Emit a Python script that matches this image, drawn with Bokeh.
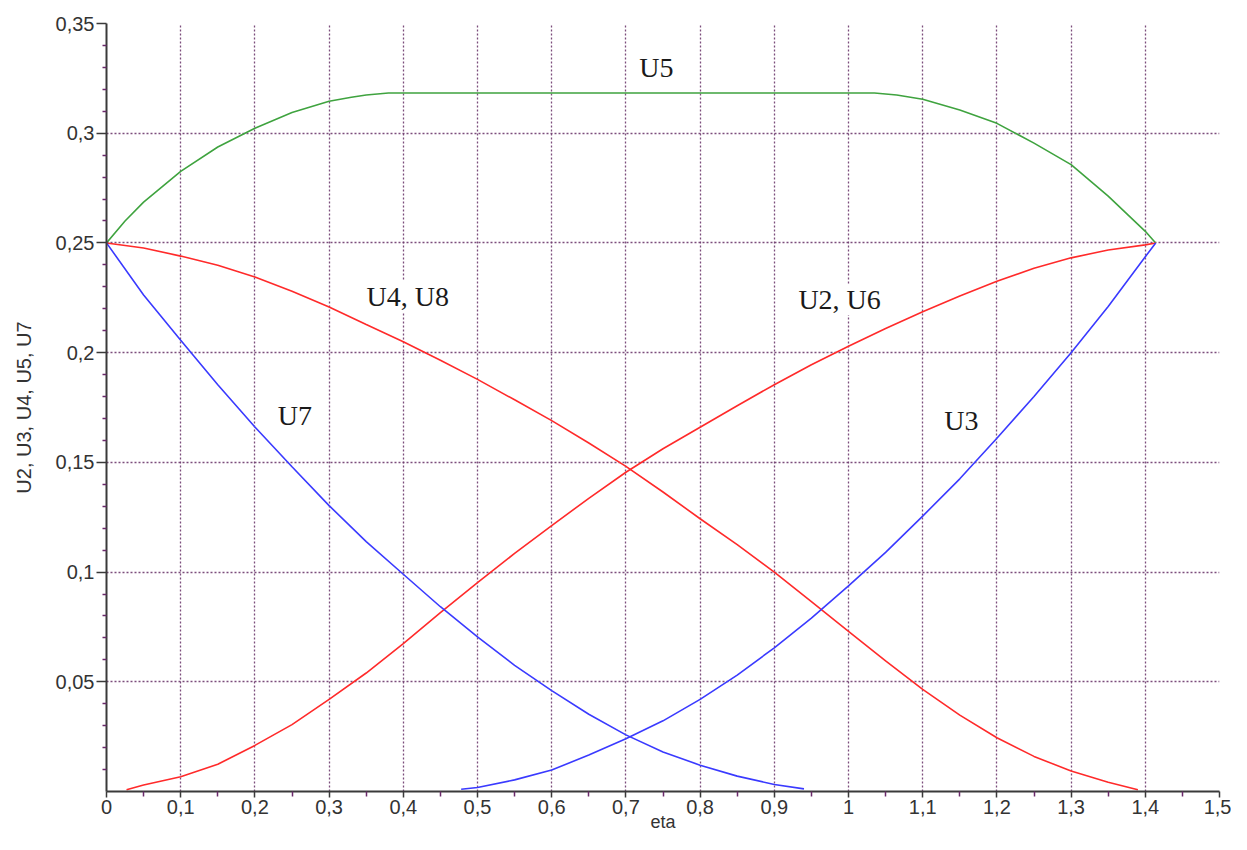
from bokeh.plotting import figure
from bokeh.models import Range1d, FixedTicker, CustomJSTickFormatter, Label
from bokeh.embed import file_html
from bokeh.resources import INLINE

# ---- data ----
eta_u5 = [0.0, 0.025, 0.05, 0.1, 0.15, 0.2, 0.25, 0.3, 0.33, 0.35, 0.38, 1.035, 1.065, 1.1, 1.15, 1.2, 1.25, 1.3, 1.35, 1.4, 1.414]
u5 = [0.25, 0.260, 0.2686, 0.2826, 0.2937, 0.3023, 0.3094, 0.3146, 0.3164, 0.3174, 0.3183, 0.3183, 0.3174, 0.3155, 0.3106, 0.3045, 0.2955, 0.2857, 0.2713, 0.2553, 0.25]

eta_u4 = [0.0, 0.05, 0.1, 0.15, 0.2, 0.25, 0.3, 0.35, 0.4, 0.45, 0.5, 0.55, 0.6, 0.65, 0.7, 0.75, 0.8, 0.85, 0.9, 0.95, 1.0, 1.05, 1.1, 1.15, 1.2, 1.25, 1.3, 1.35, 1.39]
u4 = [0.25, 0.2477, 0.2440, 0.2398, 0.2345, 0.2280, 0.2208, 0.2128, 0.2050, 0.1965, 0.1878, 0.1785, 0.1690, 0.1588, 0.1482, 0.1365, 0.1243, 0.1125, 0.1000, 0.0865, 0.0730, 0.0595, 0.0465, 0.0348, 0.0245, 0.0160, 0.0093, 0.0042, 0.0008]

eta_u2 = [0.027, 0.05, 0.1, 0.15, 0.2, 0.25, 0.3, 0.35, 0.4, 0.45, 0.5, 0.55, 0.6, 0.65, 0.7, 0.75, 0.8, 0.85, 0.9, 0.95, 1.0, 1.05, 1.1, 1.15, 1.2, 1.25, 1.3, 1.35, 1.4, 1.414]
u2 = [0.0008, 0.0030, 0.0067, 0.0124, 0.0210, 0.0305, 0.0420, 0.0540, 0.0674, 0.0815, 0.0952, 0.1085, 0.1212, 0.1336, 0.1455, 0.1562, 0.1660, 0.1758, 0.1854, 0.1945, 0.2029, 0.2110, 0.2186, 0.2258, 0.2325, 0.2385, 0.2432, 0.2468, 0.2491, 0.25]

eta_u7 = [0.0, 0.05, 0.1, 0.15, 0.2, 0.25, 0.3, 0.35, 0.4, 0.45, 0.5, 0.55, 0.6, 0.65, 0.7, 0.75, 0.8, 0.85, 0.9, 0.94]
u7 = [0.25, 0.2263, 0.2056, 0.1854, 0.1661, 0.1480, 0.1303, 0.1139, 0.0990, 0.0842, 0.0705, 0.0575, 0.0460, 0.0352, 0.0258, 0.0180, 0.0120, 0.0070, 0.0032, 0.0012]

eta_u3 = [0.478, 0.5, 0.55, 0.6, 0.65, 0.7, 0.75, 0.8, 0.85, 0.9, 0.95, 1.0, 1.05, 1.1, 1.15, 1.2, 1.25, 1.3, 1.35, 1.4, 1.414]
u3 = [0.0010, 0.0018, 0.0053, 0.0098, 0.0166, 0.0240, 0.0322, 0.0420, 0.0530, 0.0655, 0.0790, 0.0937, 0.1090, 0.1255, 0.1425, 0.1610, 0.1800, 0.2000, 0.2210, 0.2437, 0.25]

x_ticks = [0.0, 0.1, 0.2, 0.3, 0.4, 0.5, 0.6, 0.7, 0.8, 0.9, 1.0, 1.1, 1.2, 1.3, 1.4, 1.5]
x_minor = [0.05, 0.15, 0.25, 0.35, 0.45, 0.55, 0.65, 0.75, 0.85, 0.95, 1.05, 1.15, 1.25, 1.35, 1.45]
y_ticks = [0.05, 0.1, 0.15, 0.2, 0.25, 0.3, 0.35]
y_minor = [0.01, 0.02, 0.03, 0.04, 0.06, 0.07, 0.08, 0.09, 0.11, 0.12, 0.13, 0.14,
           0.16, 0.17, 0.18, 0.19, 0.21, 0.22, 0.23, 0.24, 0.26, 0.27, 0.28, 0.29,
           0.31, 0.32, 0.33, 0.34]

curve_names = ["U5", "U4, U8", "U2, U6", "U7", "U3"]

# ---- figure ----
p = figure(width=1231, height=834, output_backend="svg", toolbar_location=None,
           x_range=Range1d(0, 1.5), y_range=Range1d(0, 0.35),
           min_border_left=106, min_border_right=12, min_border_top=23, min_border_bottom=40)
p.outline_line_color = None
p.background_fill_color = "white"
p.border_fill_color = "white"

fmt = CustomJSTickFormatter(code="return (Math.round(tick*100)/100).toString().replace('.', ',');")

p.xaxis.ticker = FixedTicker(ticks=x_ticks, minor_ticks=x_minor)
p.yaxis.ticker = FixedTicker(ticks=y_ticks, minor_ticks=y_minor)
p.xaxis.formatter = fmt
p.yaxis.formatter = fmt

for ax in (p.xaxis, p.yaxis):
    ax.axis_line_color = "#3a3a3a"
    ax.axis_line_width = 2
    ax.major_tick_line_color = "#3a3a3a"
    ax.major_tick_line_width = 1.5
    ax.minor_tick_line_color = "#6a2a6a"
    ax.minor_tick_line_width = 1.5
    ax.major_tick_in = 0
    ax.minor_tick_in = 0
    ax.major_label_text_font = "Liberation Sans"
    ax.major_label_text_font_size = "20px"
    ax.major_label_text_color = "#333333"
    ax.axis_label_text_font = "Liberation Sans"
    ax.axis_label_text_font_style = "normal"
    ax.axis_label_text_color = "#333333"

p.xaxis.major_tick_out = 6
p.xaxis.minor_tick_out = 5
p.xaxis.major_label_standoff = 2
p.xaxis.axis_label = "eta"
p.xaxis.axis_label_text_font_size = "18px"
p.xaxis.axis_label_standoff = -5

p.yaxis.major_tick_out = 10
p.yaxis.minor_tick_out = 4
p.yaxis.major_label_standoff = 2
p.yaxis.axis_label = "U2, U3, U4, U5, U7"
p.yaxis.axis_label_text_font_size = "20px"
p.yaxis.axis_label_standoff = 18

for g in (p.xgrid, p.ygrid):
    g.grid_line_color = "#6e3a6e"
    g.grid_line_dash = "2 2"
    g.grid_line_width = 1.3
    g.grid_line_alpha = 0.9

GREEN = "#3fa33f"
RED = "#ff2a2a"
BLUE = "#3a3aff"

p.line(eta_u5, u5, line_color=GREEN, line_width=1.6)
p.line(eta_u4, u4, line_color=RED, line_width=1.6)
p.line(eta_u2, u2, line_color=RED, line_width=1.6)
p.line(eta_u7, u7, line_color=BLUE, line_width=1.6)
p.line(eta_u3, u3, line_color=BLUE, line_width=1.6)

label_pos = [(0.741, 0.330), (0.406, 0.2256), (0.988, 0.2242), (0.254, 0.1715), (1.152, 0.1693)]
for name, (lx, ly) in zip(curve_names, label_pos):
    p.add_layout(Label(x=lx, y=ly, text=name, text_font="Liberation Serif",
                       text_font_size="28px", text_color="#1a1a1a",
                       text_align="center", text_baseline="middle",
                       background_fill_color="white"))

open("out.html", "w").write(file_html(p, INLINE))
